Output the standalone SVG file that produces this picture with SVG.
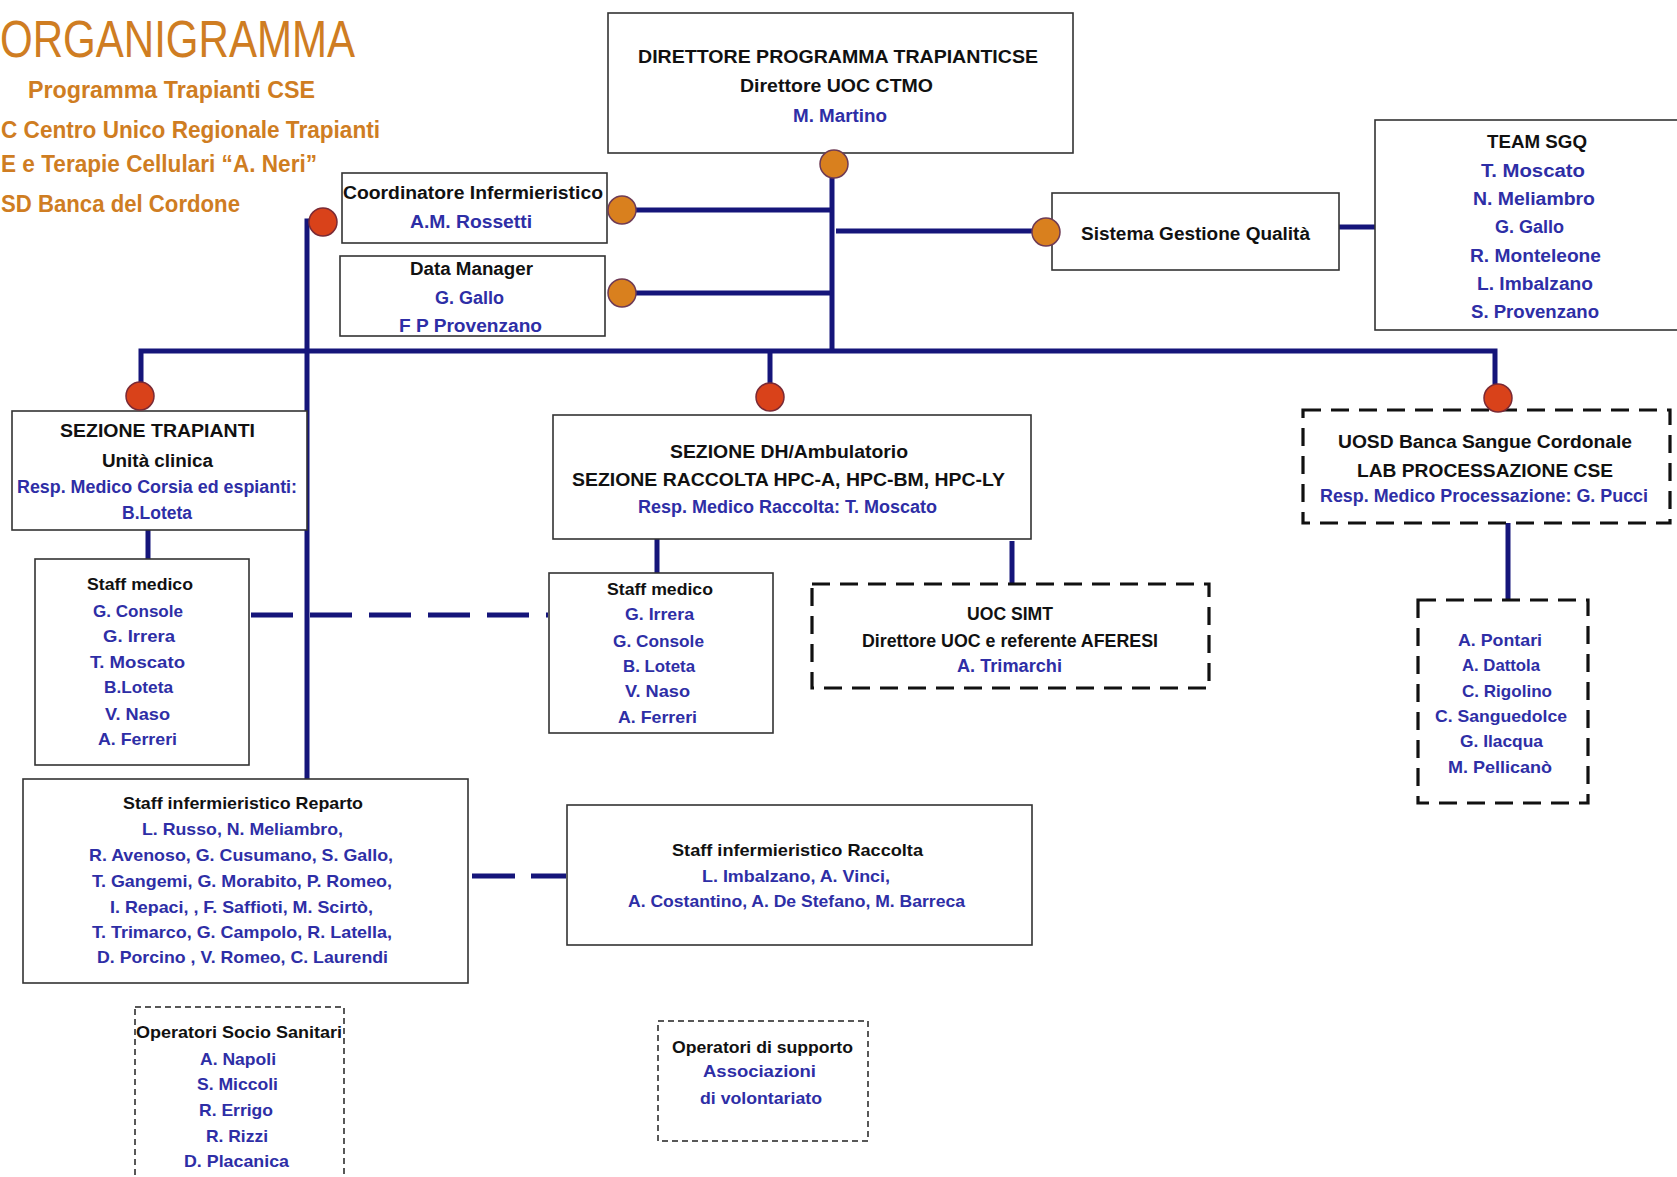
<svg xmlns="http://www.w3.org/2000/svg" width="1677" height="1177" viewBox="0 0 1677 1177">
<style>
text{font-family:"Liberation Sans",Arial,sans-serif;font-weight:bold;}
.ti{fill:#CF7D22;}
.t{fill:#111;font-size:18px;}
.n{fill:#2E2EA6;font-size:18px;}
.s16{font-size:17px;}
.b{fill:#fff;stroke:#333;stroke-width:1.6;}
.db{fill:#fff;stroke:#111;stroke-width:3.2;stroke-dasharray:18 10;}
.dt{fill:#fff;stroke:#222;stroke-width:1.5;stroke-dasharray:6 4;}
.c{fill:none;stroke:#15157A;stroke-width:5;}
.cd{fill:none;stroke:#15157A;stroke-width:5;}
.o{fill:#D9801E;stroke:#6E3B55;stroke-width:1.5;}
.r{fill:#D9421A;stroke:#7A2A35;stroke-width:1.5;}
</style>
<rect width="1677" height="1177" fill="#fff"/>

<g id="title">
<text class="ti" x="0" y="57" font-size="52" style="font-weight:normal" textLength="355" lengthAdjust="spacingAndGlyphs">ORGANIGRAMMA</text>
<text class="ti" x="28" y="98" font-size="23" textLength="287" lengthAdjust="spacingAndGlyphs">Programma Trapianti CSE</text>
<text class="ti" x="1" y="138" font-size="23" textLength="379" lengthAdjust="spacingAndGlyphs">C Centro Unico Regionale Trapianti</text>
<text class="ti" x="1" y="172" font-size="23" textLength="316" lengthAdjust="spacingAndGlyphs">E e Terapie Cellulari “A. Neri”</text>
<text class="ti" x="1" y="212" font-size="23" textLength="239" lengthAdjust="spacingAndGlyphs">SD Banca del Cordone</text>
</g>

<g id="connectors">
<path class="c" d="M832 178 V351"/>
<path class="c" d="M636 210 H832"/>
<path class="c" d="M636 293 H832"/>
<path class="c" d="M836 231 H1032"/>
<path class="c" d="M1339 227 H1375"/>
<path class="c" d="M141 384 V351 H1495 V384"/>
<path class="c" d="M770 351 V384"/>
<path class="c" d="M307 780 V221 H312"/>
<path class="c" d="M148 530 V559"/>
<path class="cd" d="M251 615 H548" stroke-dasharray="42 17"/>
<path class="c" d="M657 539 V573"/>
<path class="c" d="M1012 541 V584"/>
<path class="c" d="M1508 523 V600"/>
<path class="cd" d="M472 876 H566" stroke-dasharray="43 16"/>
</g>

<g id="direttore">
<rect class="b" x="608" y="13" width="465" height="140"/>
<text class="t" x="638" y="63" font-size="20" textLength="400" lengthAdjust="spacingAndGlyphs">DIRETTORE PROGRAMMA TRAPIANTICSE</text>
<text class="t" x="740" y="92" font-size="20" textLength="193" lengthAdjust="spacingAndGlyphs">Direttore UOC CTMO</text>
<text class="n" x="793" y="122" font-size="20" textLength="94" lengthAdjust="spacingAndGlyphs">M. Martino</text>
<circle class="o" cx="834" cy="164" r="14"/>
</g>

<g id="coordinatore">
<rect class="b" x="342" y="173" width="265" height="70"/>
<text class="t" x="343" y="199" textLength="260" lengthAdjust="spacingAndGlyphs">Coordinatore Infermieristico</text>
<text class="n" x="410" y="228" textLength="122" lengthAdjust="spacingAndGlyphs">A.M. Rossetti</text>
<circle class="o" cx="622" cy="210" r="14"/>
<circle class="r" cx="323" cy="222" r="14"/>
</g>

<g id="datamanager">
<rect class="b" x="340" y="256" width="265" height="80"/>
<text class="t" x="410" y="275" textLength="123" lengthAdjust="spacingAndGlyphs">Data Manager</text>
<text class="n" x="435" y="304" textLength="69" lengthAdjust="spacingAndGlyphs">G. Gallo</text>
<text class="n" x="399" y="332" textLength="143" lengthAdjust="spacingAndGlyphs">F P Provenzano</text>
<circle class="o" cx="622" cy="293" r="14"/>
</g>

<g id="sgq">
<rect class="b" x="1052" y="193" width="287" height="77"/>
<text class="t" x="1081" y="240" font-size="19" textLength="229" lengthAdjust="spacingAndGlyphs">Sistema Gestione Qualità</text>
<circle class="o" cx="1046" cy="232" r="14"/>
</g>

<g id="team-sgq">
<rect class="b" x="1375" y="120" width="310" height="210"/>
<text class="t" x="1487" y="148" textLength="100" lengthAdjust="spacingAndGlyphs">TEAM SGQ</text>
<text class="n" x="1481" y="177" textLength="104" lengthAdjust="spacingAndGlyphs">T. Moscato</text>
<text class="n" x="1473" y="205" textLength="122" lengthAdjust="spacingAndGlyphs">N. Meliambro</text>
<text class="n" x="1495" y="233" textLength="69" lengthAdjust="spacingAndGlyphs">G. Gallo</text>
<text class="n" x="1470" y="262" textLength="131" lengthAdjust="spacingAndGlyphs">R. Monteleone</text>
<text class="n" x="1477" y="290" textLength="116" lengthAdjust="spacingAndGlyphs">L. Imbalzano</text>
<text class="n" x="1471" y="318" textLength="128" lengthAdjust="spacingAndGlyphs">S. Provenzano</text>
</g>

<g id="sezione-trapianti">
<rect class="b" x="12" y="411" width="295" height="119"/>
<text class="t" x="60" y="437" textLength="195" lengthAdjust="spacingAndGlyphs">SEZIONE TRAPIANTI</text>
<text class="t" x="102" y="467" textLength="111" lengthAdjust="spacingAndGlyphs">Unità clinica</text>
<text class="n" x="17" y="493" textLength="280" lengthAdjust="spacingAndGlyphs">Resp. Medico Corsia ed espianti:</text>
<text class="n" x="122" y="519" textLength="70" lengthAdjust="spacingAndGlyphs">B.Loteta</text>
<circle class="r" cx="140" cy="396" r="14"/>
</g>

<g id="staff-medico-1">
<rect class="b" x="35" y="559" width="214" height="206"/>
<text class="t s16" x="87" y="590" textLength="106" lengthAdjust="spacingAndGlyphs">Staff medico</text>
<text class="n s16" x="93" y="617" textLength="90" lengthAdjust="spacingAndGlyphs">G. Console</text>
<text class="n s16" x="103" y="642" textLength="72" lengthAdjust="spacingAndGlyphs">G. Irrera</text>
<text class="n s16" x="90" y="668" textLength="95" lengthAdjust="spacingAndGlyphs">T. Moscato</text>
<text class="n s16" x="104" y="693" textLength="69" lengthAdjust="spacingAndGlyphs">B.Loteta</text>
<text class="n s16" x="105" y="720" textLength="65" lengthAdjust="spacingAndGlyphs">V. Naso</text>
<text class="n s16" x="98" y="745" textLength="79" lengthAdjust="spacingAndGlyphs">A. Ferreri</text>
</g>

<g id="sezione-dh">
<rect class="b" x="553" y="415" width="478" height="124"/>
<text class="t" x="670" y="458" textLength="238" lengthAdjust="spacingAndGlyphs">SEZIONE DH/Ambulatorio</text>
<text class="t" x="572" y="486" textLength="433" lengthAdjust="spacingAndGlyphs">SEZIONE RACCOLTA HPC-A, HPC-BM, HPC-LY</text>
<text class="n" x="638" y="513" textLength="299" lengthAdjust="spacingAndGlyphs">Resp. Medico Raccolta: T. Moscato</text>
<circle class="r" cx="770" cy="397" r="14"/>
</g>

<g id="staff-medico-2">
<rect class="b" x="549" y="573" width="224" height="160"/>
<text class="t s16" x="607" y="595" textLength="106" lengthAdjust="spacingAndGlyphs">Staff medico</text>
<text class="n s16" x="625" y="620" textLength="69" lengthAdjust="spacingAndGlyphs">G. Irrera</text>
<text class="n s16" x="613" y="647" textLength="91" lengthAdjust="spacingAndGlyphs">G. Console</text>
<text class="n s16" x="623" y="672" textLength="72" lengthAdjust="spacingAndGlyphs">B. Loteta</text>
<text class="n s16" x="625" y="697" textLength="65" lengthAdjust="spacingAndGlyphs">V. Naso</text>
<text class="n s16" x="618" y="723" textLength="79" lengthAdjust="spacingAndGlyphs">A. Ferreri</text>
</g>

<g id="uoc-simt">
<rect class="db" x="812" y="584" width="397" height="104"/>
<text class="t" x="967" y="620" textLength="86" lengthAdjust="spacingAndGlyphs">UOC SIMT</text>
<text class="t" x="862" y="647" textLength="296" lengthAdjust="spacingAndGlyphs">Direttore UOC e referente AFERESI</text>
<text class="n" x="957" y="672" textLength="105" lengthAdjust="spacingAndGlyphs">A. Trimarchi</text>
</g>

<g id="uosd">
<rect class="db" x="1303" y="410" width="367" height="113"/>
<text class="t" x="1338" y="448" textLength="294" lengthAdjust="spacingAndGlyphs">UOSD Banca Sangue Cordonale</text>
<text class="t" x="1357" y="477" textLength="256" lengthAdjust="spacingAndGlyphs">LAB PROCESSAZIONE CSE</text>
<text class="n" x="1320" y="502" textLength="328" lengthAdjust="spacingAndGlyphs">Resp. Medico Processazione: G. Pucci</text>
<circle class="r" cx="1498" cy="398" r="14"/>
</g>

<g id="lab-staff">
<rect class="db" x="1418" y="600" width="170" height="203"/>
<text class="n s16" x="1458" y="646" textLength="84" lengthAdjust="spacingAndGlyphs">A. Pontari</text>
<text class="n s16" x="1462" y="671" textLength="78" lengthAdjust="spacingAndGlyphs">A. Dattola</text>
<text class="n s16" x="1462" y="697" textLength="90" lengthAdjust="spacingAndGlyphs">C. Rigolino</text>
<text class="n s16" x="1435" y="722" textLength="132" lengthAdjust="spacingAndGlyphs">C. Sanguedolce</text>
<text class="n s16" x="1460" y="747" textLength="83" lengthAdjust="spacingAndGlyphs">G. Ilacqua</text>
<text class="n s16" x="1448" y="773" textLength="104" lengthAdjust="spacingAndGlyphs">M. Pellicanò</text>
</g>

<g id="staff-inf-reparto">
<rect class="b" x="23" y="779" width="445" height="204"/>
<text class="t s16" x="123" y="809" textLength="240" lengthAdjust="spacingAndGlyphs">Staff infermieristico Reparto</text>
<text class="n s16" x="142" y="835" textLength="201" lengthAdjust="spacingAndGlyphs">L. Russo, N. Meliambro,</text>
<text class="n s16" x="89" y="861" textLength="304" lengthAdjust="spacingAndGlyphs">R. Avenoso, G. Cusumano, S. Gallo,</text>
<text class="n s16" x="92" y="887" textLength="300" lengthAdjust="spacingAndGlyphs">T. Gangemi, G. Morabito, P. Romeo,</text>
<text class="n s16" x="110" y="913" textLength="263" lengthAdjust="spacingAndGlyphs">I. Repaci, , F. Saffioti, M. Scirtò,</text>
<text class="n s16" x="92" y="938" textLength="300" lengthAdjust="spacingAndGlyphs">T. Trimarco, G. Campolo, R. Latella,</text>
<text class="n s16" x="97" y="963" textLength="291" lengthAdjust="spacingAndGlyphs">D. Porcino , V. Romeo, C. Laurendi</text>
</g>

<g id="staff-inf-raccolta">
<rect class="b" x="567" y="805" width="465" height="140"/>
<text class="t s16" x="672" y="856" textLength="251" lengthAdjust="spacingAndGlyphs">Staff infermieristico  Raccolta</text>
<text class="n s16" x="702" y="882" textLength="188" lengthAdjust="spacingAndGlyphs">L. Imbalzano, A. Vinci,</text>
<text class="n s16" x="628" y="907" textLength="337" lengthAdjust="spacingAndGlyphs">A. Costantino, A. De Stefano, M. Barreca</text>
</g>

<g id="oss">
<rect class="dt" x="135" y="1007" width="209" height="190"/>
<text class="t s16" x="136" y="1038" textLength="206" lengthAdjust="spacingAndGlyphs">Operatori Socio Sanitari</text>
<text class="n s16" x="200" y="1065" textLength="76" lengthAdjust="spacingAndGlyphs">A. Napoli</text>
<text class="n s16" x="197" y="1090" textLength="81" lengthAdjust="spacingAndGlyphs">S. Miccoli</text>
<text class="n s16" x="199" y="1116" textLength="74" lengthAdjust="spacingAndGlyphs">R. Errigo</text>
<text class="n s16" x="206" y="1142" textLength="62" lengthAdjust="spacingAndGlyphs">R. Rizzi</text>
<text class="n s16" x="184" y="1167" textLength="105" lengthAdjust="spacingAndGlyphs">D. Placanica</text>
</g>

<g id="operatori-supporto">
<rect class="dt" x="658" y="1021" width="210" height="120"/>
<text class="t s16" x="672" y="1053" textLength="181" lengthAdjust="spacingAndGlyphs">Operatori di supporto</text>
<text class="n s16" x="703" y="1077" textLength="113" lengthAdjust="spacingAndGlyphs">Associazioni</text>
<text class="n s16" x="700" y="1104" textLength="122" lengthAdjust="spacingAndGlyphs">di volontariato</text>
</g>
</svg>
